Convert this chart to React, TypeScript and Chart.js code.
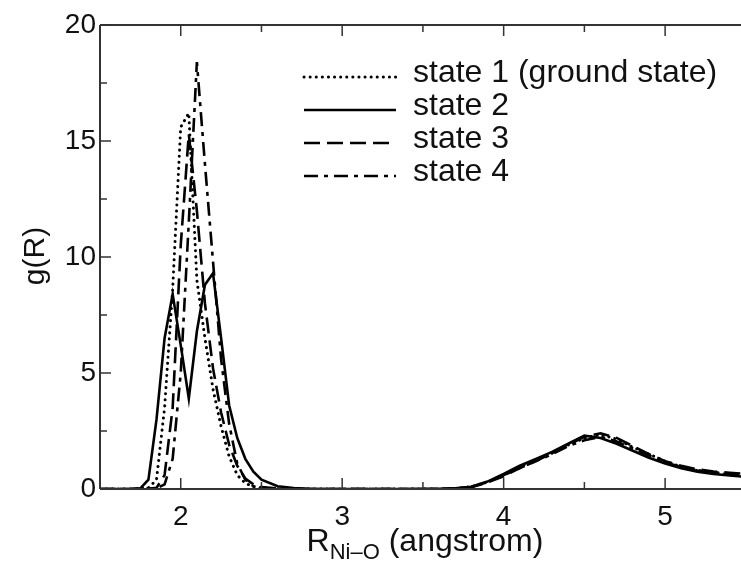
import React, { useEffect, useRef } from "react";
import { Chart, registerables } from "chart.js";

Chart.register(...registerables);

// R values (angstrom)
const R = [1.5, 1.6, 1.7, 1.75, 1.8, 1.85, 1.9, 1.95, 2.0, 2.05, 2.1, 2.15, 2.2, 2.25, 2.3, 2.35, 2.4, 2.45, 2.5, 2.6, 2.7, 2.8, 3.0, 3.2, 3.4, 3.6, 3.7, 3.8, 3.9, 4.0, 4.1, 4.2, 4.3, 4.4, 4.5, 4.6, 4.7, 4.8, 4.9, 5.0, 5.1, 5.2, 5.3, 5.4, 5.5];

const state1 = [0, 0, 0, 0.01, 0.05, 0.4, 3.5, 8.6, 15.6, 16.2, 9.0, 6.5, 4.3, 2.7, 1.4, 0.6, 0.25, 0.1, 0.05, 0.01, 0, 0, 0, 0, 0, 0, 0.02, 0.1, 0.3, 0.6, 0.95, 1.25, 1.55, 1.9, 2.2, 2.35, 2.15, 1.8, 1.5, 1.2, 0.95, 0.8, 0.7, 0.62, 0.58];
const state2 = [0, 0, 0.01, 0.03, 0.4, 3.0, 6.5, 8.4, 6.2, 3.9, 6.8, 8.8, 9.3, 6.5, 3.6, 2.2, 1.3, 0.75, 0.4, 0.12, 0.04, 0.01, 0, 0, 0, 0.01, 0.03, 0.1, 0.32, 0.65, 1.0, 1.3, 1.6, 1.95, 2.3, 2.2, 1.95, 1.65, 1.35, 1.1, 0.9, 0.75, 0.65, 0.58, 0.52];
const state3 = [0, 0, 0, 0, 0.01, 0.05, 0.6, 3.5, 10.5, 15.3, 12.0, 8.0, 5.2, 3.3, 1.9, 1.0, 0.45, 0.2, 0.08, 0.02, 0, 0, 0, 0, 0, 0, 0.02, 0.08, 0.28, 0.55, 0.9, 1.2, 1.55, 1.9, 2.25, 2.4, 2.2, 1.85, 1.5, 1.2, 1.0, 0.85, 0.75, 0.7, 0.65];
const state4 = [0, 0, 0, 0, 0.01, 0.02, 0.2, 1.3, 5.0, 11.5, 18.4, 14.0, 9.8, 5.6, 2.8, 1.1, 0.4, 0.12, 0.04, 0.01, 0, 0, 0, 0, 0, 0, 0.02, 0.09, 0.3, 0.6, 0.9, 1.2, 1.5, 1.85, 2.1, 2.25, 2.05, 1.75, 1.45, 1.15, 0.95, 0.8, 0.72, 0.66, 0.62];

const seriesLabels = ["state 1 (ground state)", "state 2", "state 3", "state 4"];
const seriesValues = [state1, state2, state3, state4];

const xMajorTicks = [2, 3, 4, 5];
const xMinorTicks = [2.5, 3.5, 4.5];
const yMajorTicks = [0, 5, 10, 15, 20];
const yMinorTicks = [2.5, 7.5, 12.5, 17.5];

const xTitleMain = "R";
const xTitleSub = "Ni\u2013O";
const xTitleRest = " (angstrom)";
const yTitle = "g(R)";

const FONT = "'Liberation Sans', Arial, Helvetica, sans-serif";
const dashes = [[0.1, 6], [], [16, 7], [14, 6, 4, 6]];
const widths = [3, 2.6, 2.6, 2.6];
const caps = ["round", "butt", "butt", "butt"];

const framePlugin = {
  id: "frame",
  afterDatasetsDraw(chart: any) {
    const { ctx, chartArea, scales } = chart;
    const { left, right, top, bottom } = chartArea;
    ctx.save();
    ctx.strokeStyle = "#333";
    ctx.lineWidth = 2;
    ctx.setLineDash([]);
    ctx.beginPath();
    ctx.moveTo(left, top);
    ctx.lineTo(right, top);
    ctx.moveTo(left, top);
    ctx.lineTo(left, bottom);
    ctx.moveTo(left, bottom);
    ctx.lineTo(right, bottom);
    ctx.stroke();
    ctx.lineWidth = 1.5;
    ctx.beginPath();
    const tx = (v: number, len: number) => {
      const px = scales.x.getPixelForValue(v);
      ctx.moveTo(px, bottom);
      ctx.lineTo(px, bottom - len);
      ctx.moveTo(px, top);
      ctx.lineTo(px, top + len);
    };
    const ty = (v: number, len: number) => {
      const py = scales.y.getPixelForValue(v);
      ctx.moveTo(left, py);
      ctx.lineTo(left + len, py);
    };
    xMajorTicks.forEach((v) => tx(v, 11));
    xMinorTicks.forEach((v) => tx(v, 7));
    yMajorTicks.forEach((v) => ty(v, 11));
    yMinorTicks.forEach((v) => ty(v, 7));
    ctx.stroke();

    // legend
    const rowsY = [77, 110, 143, 176];
    seriesLabels.forEach((lab, i) => {
      const y = rowsY[i];
      ctx.strokeStyle = "#000";
      ctx.lineWidth = widths[i];
      ctx.lineCap = caps[i];
      ctx.setLineDash(dashes[i]);
      ctx.beginPath();
      ctx.moveTo(304, y);
      ctx.lineTo(396, y);
      ctx.stroke();
      ctx.setLineDash([]);
      ctx.lineCap = "butt";
      ctx.fillStyle = "#111";
      ctx.font = `32px ${FONT}`;
      ctx.textBaseline = "middle";
      ctx.textAlign = "left";
      ctx.fillText(lab, 413, y - 4);
    });

    // axis titles
    ctx.fillStyle = "#111";
    ctx.textBaseline = "alphabetic";
    ctx.font = `32px ${FONT}`;
    const wMain = ctx.measureText(xTitleMain).width;
    const wRest = ctx.measureText(xTitleRest).width;
    ctx.font = `22px ${FONT}`;
    const wSub = ctx.measureText(xTitleSub).width;
    const total = wMain + wSub + wRest;
    let x0 = 425 - total / 2;
    const base = 551;
    ctx.font = `32px ${FONT}`;
    ctx.fillText(xTitleMain, x0, base);
    x0 += wMain;
    ctx.font = `22px ${FONT}`;
    ctx.fillText(xTitleSub, x0, base + 8);
    x0 += wSub;
    ctx.font = `32px ${FONT}`;
    ctx.fillText(xTitleRest, x0, base);

    ctx.save();
    ctx.translate(36, 256);
    ctx.rotate(-Math.PI / 2);
    ctx.textAlign = "center";
    ctx.textBaseline = "middle";
    ctx.font = `30px ${FONT}`;
    ctx.fillText(yTitle, 0, 0);
    ctx.restore();
    ctx.restore();
  },
};

export default function App() {
  const ref = useRef<HTMLCanvasElement | null>(null);
  useEffect(() => {
    if (!ref.current) return;
    const chart = new Chart(ref.current, {
      type: "line",
      data: {
        datasets: seriesLabels.map((lab, i) => ({
          label: lab,
          data: R.map((x, j) => ({ x, y: seriesValues[i][j] })),
          borderColor: "#000",
          borderWidth: widths[i],
          borderDash: dashes[i],
          borderCapStyle: caps[i] as any,
          pointRadius: 0,
          fill: false,
          tension: 0,
        })),
      },
      options: {
        animation: false,
        responsive: false,
        devicePixelRatio: 1,
        layout: { padding: { top: 25, right: 0, left: 0, bottom: 0 } },
        plugins: { legend: { display: false }, tooltip: { enabled: false } },
        scales: {
          x: {
            type: "linear",
            min: 1.5,
            max: 5.47,
            afterBuildTicks: (s: any) => {
              s.ticks = xMajorTicks.map((v) => ({ value: v }));
            },
            afterFit: (s: any) => {
              s.height = 74;
            },
            grid: { display: false, drawTicks: false },
            border: { display: false },
            ticks: { font: { family: FONT, size: 28 }, color: "#111", padding: 11, maxRotation: 0 },
          },
          y: {
            type: "linear",
            min: 0,
            max: 20,
            afterBuildTicks: (s: any) => {
              s.ticks = yMajorTicks.map((v) => ({ value: v }));
            },
            afterFit: (s: any) => {
              s.width = 100;
            },
            grid: { display: false, drawTicks: false },
            border: { display: false },
            ticks: { font: { family: FONT, size: 28 }, color: "#111", padding: 4 },
          },
        },
      },
      plugins: [framePlugin],
    });
    return () => chart.destroy();
  }, []);
  return (
    <div style={{ position: "absolute", left: 0, top: 0, width: 741, height: 563, background: "#fff" }}>
      <canvas ref={ref} width={741} height={563} />
    </div>
  );
}
